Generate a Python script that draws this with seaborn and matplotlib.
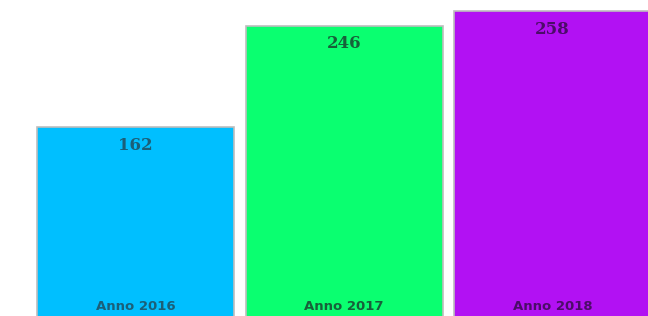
import matplotlib
matplotlib.use('Agg')
import matplotlib.pyplot as plt
import matplotlib.transforms as mtransforms
import seaborn as sns
import pandas as pd

# Dati del grafico
anni = ['Anno 2016', 'Anno 2017', 'Anno 2018']
valori = [162, 246, 258]
colori_barre = ['#00bfff', '#0aff70', '#b211f3']
colori_testo = ['#1b5f78', '#17603a', '#4b0c68']

df = pd.DataFrame({'Anno': anni, 'Valore': valori})

sns.set_style('white')

fig = plt.figure(figsize=(6.48, 3.16), dpi=100)
# asse leggermente oltre il bordo inferiore: il grafico e' ritagliato
ax = fig.add_axes([0, -0.022, 1, 1.022])

sns.barplot(data=df, x='Anno', y='Valore', hue='Anno', palette=colori_barre,
            width=0.945, edgecolor='#bdbdbd', linewidth=1.2, legend=False,
            saturation=1, ax=ax)

ax.set_xlim(-0.65, 2.458)
ax.set_ylim(0, 267.3)

# griglia molto tenue sullo sfondo
ax.grid(True, color='#f3f3f3', linewidth=0.8)
ax.set_axisbelow(True)
for s in ax.spines.values():
    s.set_visible(False)
ax.set_xticks([])
ax.set_yticks([])
ax.set_xlabel('')
ax.set_ylabel('')

trans = mtransforms.blended_transform_factory(ax.transData, ax.transAxes)
for i, (anno, v) in enumerate(zip(anni, valori)):
    ax.text(i, v - 15, str(v), ha='center', va='center', fontsize=12,
            fontweight='bold', family='DejaVu Serif', color=colori_testo[i])
    ax.text(i, 0.05, anno, transform=trans, ha='center', va='center',
            fontsize=9.5, fontweight='semibold', color=colori_testo[i])

fig.savefig('out.png', dpi=100)
